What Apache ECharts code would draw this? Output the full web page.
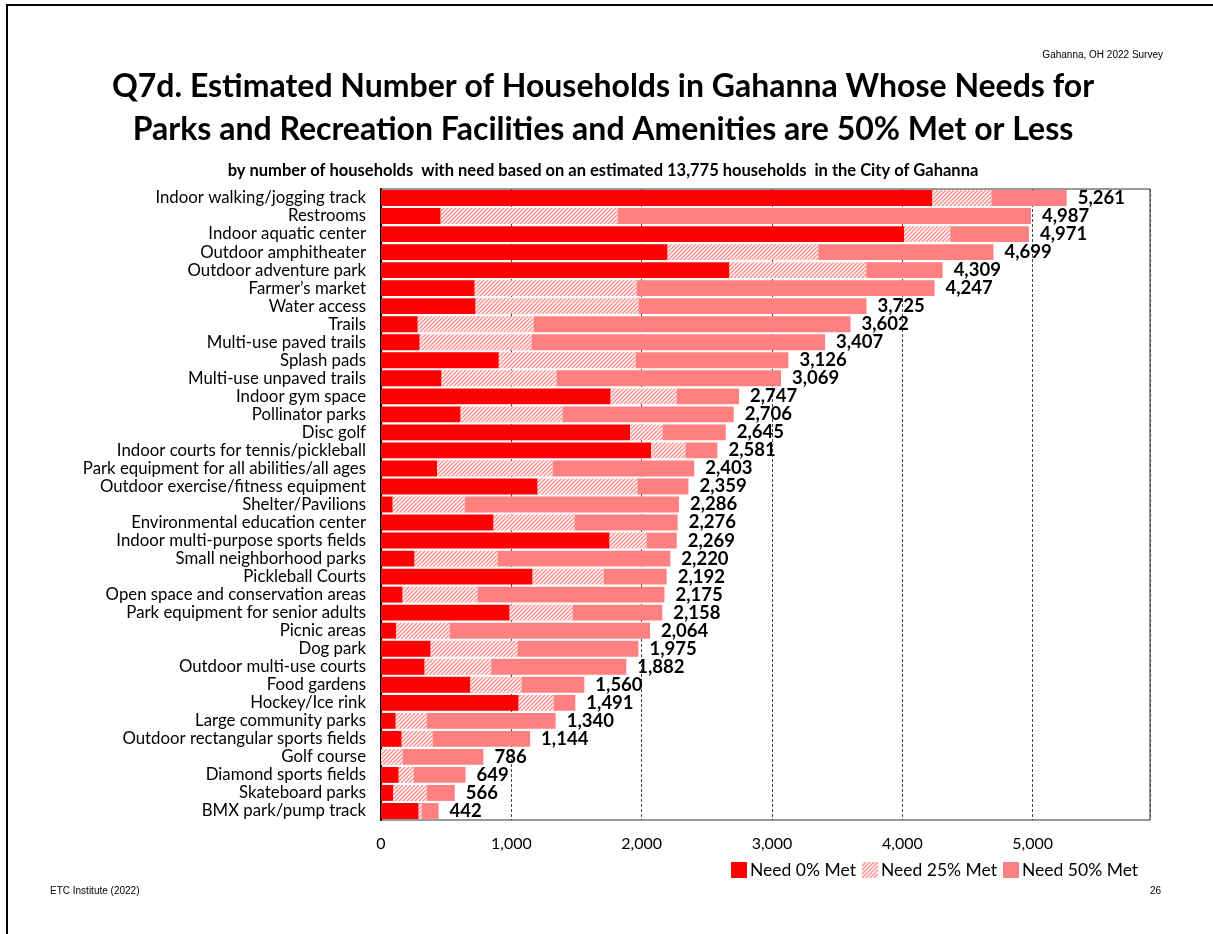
<!DOCTYPE html>
<html>
<head>
<meta charset="utf-8">
<style>
  html, body { margin: 0; padding: 0; background: #fff; }
  #chart { width: 1213px; height: 934px; }
</style>
<script src="https://cdn.jsdelivr.net/npm/echarts@6/dist/echarts.min.js"></script>
</head>
<body>
<div id="chart"></div>
<script>
// Facilities and amenities, ranked by total households with need 50% met or less
const categories = [
  'Indoor walking/jogging track', 'Restrooms', 'Indoor aquatic center', 'Outdoor amphitheater',
  'Outdoor adventure park', 'Farmer\u2019s market', 'Water access', 'Trails',
  'Multi-use paved trails', 'Splash pads', 'Multi-use unpaved trails', 'Indoor gym space',
  'Pollinator parks', 'Disc golf', 'Indoor courts for tennis/pickleball',
  'Park equipment for all abilities/all ages', 'Outdoor exercise/fitness equipment',
  'Shelter/Pavilions', 'Environmental education center', 'Indoor multi-purpose sports fields',
  'Small neighborhood parks', 'Pickleball Courts', 'Open space and conservation areas',
  'Park equipment for senior adults', 'Picnic areas', 'Dog park', 'Outdoor multi-use courts',
  'Food gardens', 'Hockey/Ice rink', 'Large community parks', 'Outdoor rectangular sports fields',
  'Golf course', 'Diamond sports fields', 'Skateboard parks', 'BMX park/pump track'
];

// Households whose need is 0% met
const need0 = [
  4231, 458, 4015, 2199, 2674, 719, 726, 282, 297, 904, 465, 1762, 611, 1912, 2073,
  430, 1202, 90, 864, 1754, 258, 1163, 166, 987, 118, 381, 335, 686, 1056, 113, 159,
  0, 136, 95, 289
];

// Households whose need is 25% met
const need25 = [
  452, 1357, 353, 1156, 1049, 1242, 1250, 889, 859, 1050, 882, 506, 782, 248, 264,
  887, 766, 552, 621, 284, 637, 545, 575, 483, 409, 667, 511, 393, 268, 238, 237,
  166, 115, 256, 23
];

// Households whose need is 50% met
const need50 = [
  578, 3172, 603, 1344, 586, 2286, 1749, 2431, 2251, 1172, 1722, 479, 1313, 485, 244,
  1086, 391, 1644, 791, 231, 1325, 484, 1434, 688, 1537, 927, 1036, 481, 167, 989, 748,
  620, 398, 215, 130
];

// Total households with need (sum of the three groups)
const totals = [
  5261, 4987, 4971, 4699, 4309, 4247, 3725, 3602, 3407, 3126, 3069, 2747, 2706, 2645, 2581,
  2403, 2359, 2286, 2276, 2269, 2220, 2192, 2175, 2158, 2064, 1975, 1882, 1560, 1491, 1340, 1144,
  786, 649, 566, 442
];

const seriesNames = ['Need 0% Met', 'Need 25% Met', 'Need 50% Met'];
const xTicks = [0, 1000, 2000, 3000, 4000, 5000];

// Diagonal hatch fill for the 25% group
function hatchPattern() {
  const c = document.createElement('canvas');
  c.width = 4; c.height = 4;
  const g = c.getContext('2d');
  g.fillStyle = '#ffffff';
  g.fillRect(0, 0, 4, 4);
  g.strokeStyle = '#FF8C8C';
  g.lineWidth = 1.4;
  g.beginPath();
  g.moveTo(-1, 5); g.lineTo(5, -1);
  g.moveTo(-1, 1); g.lineTo(1, -1);
  g.moveTo(3, 5); g.lineTo(5, 3);
  g.stroke();
  return { image: c, repeat: 'repeat' };
}

const FONT = 'Lato, "Open Sans", "Noto Sans", sans-serif';
const chart = echarts.init(document.getElementById('chart'), null, { renderer: 'canvas' });

const fmt = v => v.toLocaleString('en-US');

chart.setOption({
  animation: false,
  backgroundColor: '#ffffff',
  textStyle: { fontFamily: FONT },
  grid: {
    left: 381, top: 189, width: 769, height: 631,
    show: true, borderColor: '#333', borderWidth: 1, containLabel: false
  },
  xAxis: {
    type: 'value',
    min: 0, max: 5900, interval: 1000,
    axisLine: { show: false },
    axisTick: { show: false },
    splitLine: { show: true, lineStyle: { type: [3, 2], color: '#444', width: 1 } },
    axisLabel: {
      color: '#000', fontSize: 16, fontFamily: FONT, margin: 16,
      showMaxLabel: false,
      formatter: v => (xTicks.indexOf(v) >= 0 ? fmt(v) : '')
    }
  },
  yAxis: {
    type: 'category',
    data: categories,
    inverse: true,
    axisLine: { show: true, lineStyle: { color: '#000', width: 2 } },
    axisTick: { show: false },
    axisLabel: { interval: 0, color: '#000', fontSize: 16.8, fontFamily: FONT, margin: 15 }
  },
  legend: {
    data: seriesNames,
    left: 726, top: 856,
    itemWidth: 16, itemHeight: 16, itemGap: 6,
    icon: 'rect',
    textStyle: { color: '#000', fontSize: 17.5, fontFamily: FONT, padding: [0, 0, 0, -2] }
  },
  series: [
    {
      name: seriesNames[0], type: 'bar', stack: 'need', data: need0,
      barCategoryGap: '12%',
      itemStyle: { color: '#FF0000' }
    },
    {
      name: seriesNames[1], type: 'bar', stack: 'need', data: need25,
      itemStyle: { color: hatchPattern() }
    },
    {
      name: seriesNames[2], type: 'bar', stack: 'need', data: need50,
      itemStyle: { color: '#FF8080' },
      label: {
        show: true, position: 'right', distance: 11,
        color: '#000', fontSize: 18.5, fontWeight: 'bold', fontFamily: FONT,
        formatter: p => fmt(totals[p.dataIndex])
      }
    }
  ],
  graphic: [
    // slide frame
    { type: 'rect', silent: true, shape: { x: 7, y: 5, width: 1400, height: 1200 },
      style: { fill: 'none', stroke: '#000', lineWidth: 2 } },
    { type: 'text', style: { text: 'Gahanna, OH 2022 Survey', x: 1163, y: 55, align: 'right',
      verticalAlign: 'middle', font: '10px "Liberation Sans", Arial, sans-serif', fill: '#000' } },
    { type: 'text', style: { text: 'Q7d. Estimated Number of Households in Gahanna Whose Needs for',
      x: 603, y: 87, align: 'center', verticalAlign: 'middle',
      font: 'bold 32px ' + FONT, fill: '#000' } },
    { type: 'text', style: { text: 'Parks and Recreation Facilities and Amenities are 50% Met or Less',
      x: 603, y: 130, align: 'center', verticalAlign: 'middle',
      font: 'bold 32px ' + FONT, fill: '#000' } },
    { type: 'text', style: { text: 'by number of households  with need based on an estimated 13,775 households  in the City of Gahanna',
      x: 603, y: 171, align: 'center', verticalAlign: 'middle',
      font: 'bold 16.5px ' + FONT, fill: '#000' } },
    { type: 'text', style: { text: 'ETC Institute (2022)', x: 50, y: 891, align: 'left',
      verticalAlign: 'middle', font: '10px "Liberation Sans", Arial, sans-serif', fill: '#000' } },
    { type: 'text', style: { text: '26', x: 1161, y: 891, align: 'right',
      verticalAlign: 'middle', font: '10px "Liberation Sans", Arial, sans-serif', fill: '#000' } }
  ]
});
</script>
</body>
</html>
